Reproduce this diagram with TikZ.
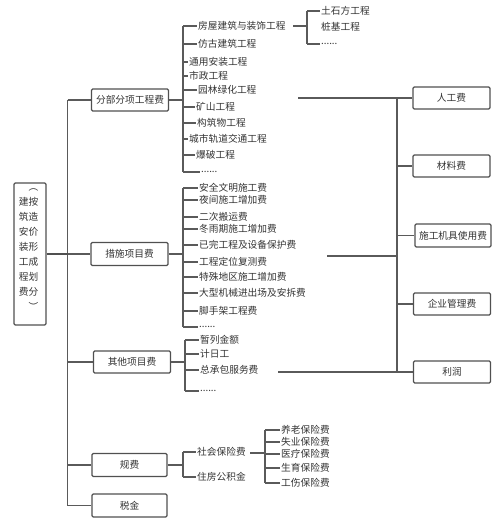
\documentclass[tikz,border=0pt]{standalone}
\usepackage{fontspec}
\setmainfont{Noto Sans CJK SC}
\definecolor{linec}{HTML}{5A5A5A}
\definecolor{boxc}{HTML}{505050}
\definecolor{txtc}{HTML}{333333}
\begin{document}
\begin{tikzpicture}[x=1pt,y=-1pt,
  ln/.style={draw=linec, line width=1.1pt},
  box/.style={draw=boxc, line width=1.2pt, rounded corners=1.2pt, minimum width=77pt, minimum height=22pt, inner sep=1pt, font=\fontsize{9.7}{11}\selectfont, text=txtc},
  item/.style={inner sep=1pt, font=\fontsize{9.7}{11}\selectfont, text=txtc, anchor=west},
]
\useasboundingbox (0,0) rectangle (500,522);

% root box
\node[box, minimum width=32pt, minimum height=142pt, inner sep=0pt] (root) at (30,254) {};
\node[inner sep=0pt, text=txtc] (rootlbl) at (28.5,247) {\fontsize{9.7}{15}\selectfont\begin{tabular}{@{}c@{}c@{}} &︵\\ 建&按\\ 筑&造\\ 安&价\\ 装&形\\ 工&成\\ 程&划\\ 费&分\\ &︶\end{tabular}};

% second level boxes
\node[box] (b1) at (130,100) {分部分项工程费};
\node[box, minimum height=23pt] (b2) at (129.5,254) {措施项目费};
\node[box] (b3) at (132,362) {其他项目费};
\node[box, minimum width=75pt, minimum height=23pt] (b4) at (129.5,465) {规费};
\node[box, minimum width=75pt, minimum height=23pt] (b5) at (129.5,505.5) {税金};

% trunk
\coordinate (t1) at (67.5,100);
\coordinate (t2) at (67.5,254);
\coordinate (t3) at (67.5,362);
\coordinate (t4) at (67.5,465);
\coordinate (t5) at (67.5,505.5);
\draw[ln] (t1) -- (t5);
\draw[ln, line width=2pt, draw=boxc] (root.east) -- (t2);
\foreach \i in {1,...,5} {\draw[ln] (t\i) -- (b\i.west);}

% 分部分项 items
\coordinate (c1) at (183,100);
\draw[ln] (b1.east) -- (c1);
\foreach \n/\y/\x/\t in {a1/26/197/房屋建筑与装饰工程, a2/44/197/仿古建筑工程, a3/62/188/通用安装工程, a4/76/188/市政工程, a5/90/197/园林绿化工程, a6/107/195/矿山工程, a7/123/196/构筑物工程, a8/139/188/城市轨道交通工程, a9/155/195/爆破工程} {
  \node[item] (\n) at (\x,\y) {\t};
  \coordinate (\n-k) at (183,\y);
  \draw[ln] (\n-k) -- (\n.west);
}
\node[item] (a10) at (200,172) {......};
\coordinate (a10-k) at (183,172);
\draw[ln] (a10-k) -- (a10.west);
\draw[ln] (a1-k) -- (a10-k);

% 房屋建筑 sub items
\coordinate (s0a) at (293,26);
\coordinate (s0) at (307,26);
\draw[ln] (s0a) -- (s0);
\node[item] (s1) at (320,11) {土石方工程};
\node[item] (s2) at (320,27) {桩基工程};
\node[item] (s3) at (320,44) {......};
\coordinate (s1-k) at (307,11);
\coordinate (s3-k) at (307,44);
\draw[ln] (s1-k) -- (s1.west);
\draw[ln] (s3-k) -- (s3.west);
\draw[ln] (s1-k) -- (s3-k);

% 措施 items
\coordinate (c2) at (183,254);
\draw[ln] (b2.east) -- (c2);
\foreach \n/\y/\t in {m1/188/安全文明施工费, m2/200/夜间施工增加费, m3/217/二次搬运费, m4/229/冬雨期施工增加费, m5/245/已完工程及设备保护费, m6/262/工程定位复测费, m7/277/特殊地区施工增加费, m8/293/大型机械进出场及安拆费, m9/311/脚手架工程费} {
  \node[item] (\n) at (198,\y) {\t};
  \coordinate (\n-k) at (183,\y);
  \draw[ln] (\n-k) -- (\n.west);
}
\node[item] (m10) at (198,327) {......};
\coordinate (m10-k) at (183,327);
\draw[ln] (m10-k) -- (m10.west);
\draw[ln] (m1-k) -- (m10-k);

% 其他 items
\coordinate (c3) at (185,362);
\draw[ln] (b3.east) -- (c3);
\foreach \n/\y/\t in {o1/340/暂列金额, o2/354/计日工, o3/370/总承包服务费} {
  \node[item] (\n) at (199,\y) {\t};
  \coordinate (\n-k) at (185,\y);
  \draw[ln] (\n-k) -- (\n.west);
}
\node[item] (o4) at (199,391) {......};
\coordinate (o4-k) at (185,391);
\draw[ln] (o4-k) -- (o4.west);
\draw[ln] (o1-k) -- (o4-k);

% 规费 items
\coordinate (c4) at (183,465);
\draw[ln] (b4.east) -- (c4);
\foreach \n/\y/\t in {g1/452/社会保险费, g2/477/住房公积金} {
  \node[item] (\n) at (196,\y) {\t};
  \coordinate (\n-k) at (183,\y);
  \draw[ln] (\n-k) -- (\n.west);
}
\draw[ln] (g1-k) -- (g2-k);

% 社会保险 sub items
\coordinate (ia) at (250,453);
\coordinate (ib) at (265,453);
\draw[ln] (ia) -- (ib);
\foreach \n/\y/\t in {i1/430/养老保险费, i2/442/失业保险费, i3/454/医疗保险费, i4/468/生育保险费, i5/483/工伤保险费} {
  \node[item] (\n) at (280,\y) {\t};
  \coordinate (\n-k) at (265,\y);
  \draw[ln] (\n-k) -- (\n.west);
}
\draw[ln] (i1-k) -- (i5-k);

% right boxes
\node[box] (r1) at (451.5,98) {人工费};
\node[box] (r2) at (451.5,166) {材料费};
\node[box, minimum width=76pt, minimum height=23pt] (r3) at (453,235.5) {施工机具使用费};
\node[box] (r4) at (452,304) {企业管理费};
\node[box] (r5) at (452,372) {利润};

\coordinate (q1) at (397,98);
\coordinate (q2) at (397,166);
\coordinate (q3) at (397,235.5);
\coordinate (q4) at (397,304);
\coordinate (q5) at (397,372);
\draw[ln] (q1) -- (q5);
\foreach \i in {1,...,5} {\draw[ln] (q\i) -- (r\i.west);}

% horizontal feeds
\coordinate (h1) at (298,98);
\draw[ln] (h1) -- (q1);
\coordinate (h2) at (327,256);
\coordinate (qm) at (397,256);
\draw[ln] (h2) -- (qm);
\coordinate (h3) at (278,372);
\draw[ln] (h3) -- (q5);
\end{tikzpicture}
\end{document}
